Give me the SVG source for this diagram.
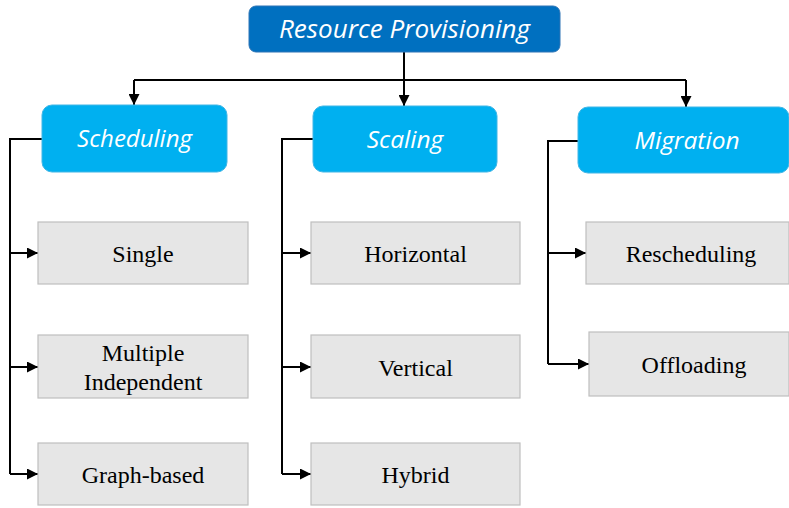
<svg xmlns="http://www.w3.org/2000/svg" width="789" height="508" viewBox="0 0 789 508">
<style>
.root{fill:#0070C0;stroke:#2E75B6;stroke-width:1}
.cat{fill:#00B0F0;stroke:#41B6E6;stroke-width:1}
.leaf{fill:#E6E6E6;stroke:#BFBFBF;stroke-width:1.2}
.ti{font-family:"Open Sans","Noto Sans",sans-serif;font-style:italic;fill:#FFFFFF;text-anchor:middle}
.tl{font-family:"Liberation Serif","Times New Roman",serif;fill:#000000;font-size:24px;text-anchor:middle}
.c{fill:none;stroke:#000000;stroke-width:2}
</style>
<defs>
<marker id="ah" viewBox="0 0 10 10" refX="10" refY="5" markerWidth="5.5" markerHeight="5.5" orient="auto" markerUnits="strokeWidth">
<path d="M0,0 L10,5 L0,10 Z" fill="#000000"/>
</marker>
</defs>
<g id="connectors">
<path class="c" d="M404,52 V106" marker-end="url(#ah)"/>
<path class="c" d="M134,80 H686"/>
<path class="c" d="M134,80 V105" marker-end="url(#ah)"/>
<path class="c" d="M686,80 V107" marker-end="url(#ah)"/>
<path class="c" d="M42,139 H10 V474"/>
<path class="c" d="M10,253 H38" marker-end="url(#ah)"/>
<path class="c" d="M10,367 H38" marker-end="url(#ah)"/>
<path class="c" d="M10,474 H38" marker-end="url(#ah)"/>
<path class="c" d="M313,139 H282 V474"/>
<path class="c" d="M282,253 H311" marker-end="url(#ah)"/>
<path class="c" d="M282,367 H311" marker-end="url(#ah)"/>
<path class="c" d="M282,474 H311" marker-end="url(#ah)"/>
<path class="c" d="M578,141 H548 V364"/>
<path class="c" d="M548,253 H586" marker-end="url(#ah)"/>
<path class="c" d="M548,364 H589" marker-end="url(#ah)"/>
</g>
<g id="root">
<rect class="root" x="249" y="6" width="311" height="46" rx="7"/>
<text class="ti" x="404.5" y="38" font-size="26">Resource Provisioning</text>
</g>
<g id="scheduling">
<rect class="cat" x="42" y="105" width="185" height="67" rx="10"/>
<text class="ti" x="134.5" y="147" font-size="24">Scheduling</text>
</g>
<g id="scaling">
<rect class="cat" x="313" y="106" width="184" height="66" rx="10"/>
<text class="ti" x="405" y="148" font-size="24.5">Scaling</text>
</g>
<g id="migration">
<rect class="cat" x="578" y="107" width="211" height="66" rx="10"/>
<text class="ti" x="687" y="149" font-size="24.5">Migration</text>
</g>
<g id="single">
<rect class="leaf" x="38" y="222" width="210" height="62"/>
<text class="tl" x="143" y="262">Single</text>
</g>
<g id="multiple">
<rect class="leaf" x="38" y="335" width="210" height="63"/>
<text class="tl" x="143" y="361">Multiple</text>
<text class="tl" x="143" y="390">Independent</text>
</g>
<g id="graph">
<rect class="leaf" x="38" y="443" width="210" height="62"/>
<text class="tl" x="143" y="483">Graph-based</text>
</g>
<g id="horizontal">
<rect class="leaf" x="311" y="222" width="209" height="62"/>
<text class="tl" x="415.5" y="262">Horizontal</text>
</g>
<g id="vertical">
<rect class="leaf" x="311" y="335" width="209" height="63"/>
<text class="tl" x="415.5" y="376">Vertical</text>
</g>
<g id="hybrid">
<rect class="leaf" x="311" y="443" width="209" height="62"/>
<text class="tl" x="415.5" y="483">Hybrid</text>
</g>
<g id="rescheduling">
<rect class="leaf" x="586" y="222" width="203" height="62"/>
<text class="tl" x="691" y="262">Rescheduling</text>
</g>
<g id="offloading">
<rect class="leaf" x="589" y="332" width="200" height="64"/>
<text class="tl" x="694" y="373">Offloading</text>
</g>
</svg>
